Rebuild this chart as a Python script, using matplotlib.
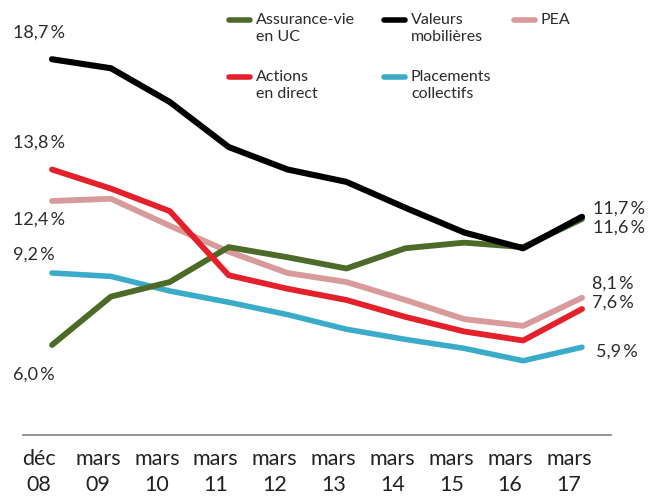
import matplotlib
matplotlib.use("Agg")
import matplotlib.pyplot as plt
from matplotlib.lines import Line2D

plt.rcParams['font.family'] = ['Lato', 'DejaVu Sans']

# ---- data ----
months = ["déc", "mars", "mars", "mars", "mars", "mars", "mars", "mars", "mars", "mars"]
years = ["08", "09", "10", "11", "12", "13", "14", "15", "16", "17"]

assurance_vie = [6.0, 8.15, 8.8, 10.35, 9.9, 9.4, 10.3, 10.55, 10.35, 11.6]
valeurs_mob = [18.7, 18.3, 16.8, 14.8, 13.8, 13.25, 12.1, 11.0, 10.3, 11.7]
pea = [12.4, 12.5, 11.3, 10.15, 9.2, 8.8, 8.0, 7.15, 6.85, 8.1]
actions = [13.8, 12.95, 11.95, 9.1, 8.5, 8.0, 7.25, 6.6, 6.2, 7.6]
placements = [9.2, 9.05, 8.4, 7.9, 7.35, 6.7, 6.25, 5.85, 5.3, 5.9]

series_names = ["Assurance-vie\nen UC", "Valeurs\nmobilières", "PEA",
                "Actions\nen direct", "Placements\ncollectifs"]

W, H = 652, 497
fig = plt.figure(figsize=(W / 100, H / 100), dpi=100)
ax = fig.add_axes([0, 0, 1, 1])
ax.set_xlim(-52 / 58.89, (W - 52) / 58.89)
ax.set_ylim(6 - (H - 345) / 22.5, 6 + 345 / 22.5)
ax.axis('off')

c_green = "#4d6a29"
c_black = "#000000"
c_pink = "#d89a9b"
c_red = "#e4202a"
c_blue = "#3aabc8"

x = list(range(len(years)))
kw = dict(solid_joinstyle='round', solid_capstyle='round')
ax.plot(x, pea, color=c_pink, lw=4.2, zorder=2, **kw)
ax.plot(x, placements, color=c_blue, lw=4.0, zorder=3, **kw)
ax.plot(x, assurance_vie, color=c_green, lw=4.2, zorder=4, **kw)
ax.plot(x, actions, color=c_red, lw=4.2, zorder=5, **kw)
ax.plot(x, valeurs_mob, color=c_black, lw=4.4, zorder=6, **kw)

# baseline
ax.plot([-0.5, 9.5], [2.0, 2.0], color="#8a8a8a", lw=1.3, zorder=1)

# x labels
tc = "#222222"
for i, (m, yv) in enumerate(zip(months, years)):
    ax.text(i - 0.22, 6 - (459 - 345) / 22.5, m, ha='center', va='center',
            fontsize=15.5, color=tc)
    ax.text(i - 0.22, 6 - (485 - 345) / 22.5, yv, ha='center', va='center',
            fontsize=15.5, color=tc)

def fmt(v):
    return ("%.1f" % v).replace(".", ",") + "\u2009%"

pc = "#2b2b2b"
# left labels: (series, dy px)
left = [(valeurs_mob, 27), (actions, 27), (pea, -19), (placements, 18), (assurance_vie, -30)]
for s, dy in left:
    ax.annotate(fmt(s[0]), xy=(0, s[0]), xytext=(-39, dy), textcoords='offset pixels',
                ha='left', va='center', fontsize=13, color=pc)
right = [(valeurs_mob, 11, 8), (assurance_vie, 11, -9), (pea, 10, 14),
         (actions, 10, 6), (placements, 14, -4)]
for s, dx, dy in right:
    ax.annotate(fmt(s[-1]), xy=(9, s[-1]), xytext=(dx, dy), textcoords='offset pixels',
                ha='left', va='center', fontsize=13, color=pc)

# legend
leg = [(c_green, 229, 20, series_names[0]),
       (c_black, 384, 20, series_names[1]),
       (c_pink, 514, 20, series_names[2]),
       (c_red, 229, 77, series_names[3]),
       (c_blue, 384, 77, series_names[4])]
for col, x0, y0, lab in leg:
    fig.add_artist(Line2D([x0 / W, (x0 + 21) / W], [1 - y0 / H, 1 - y0 / H],
                          transform=fig.transFigure, color=col, lw=4.0,
                          solid_capstyle='round'))
    for k, line in enumerate(lab.split("\n")):
        fig.text((x0 + 27) / W, 1 - (y0 + 17 * k) / H, line, ha='left', va='center',
                 fontsize=11.5, color="#2b2b2b")

fig.savefig("out.png", dpi=100)
